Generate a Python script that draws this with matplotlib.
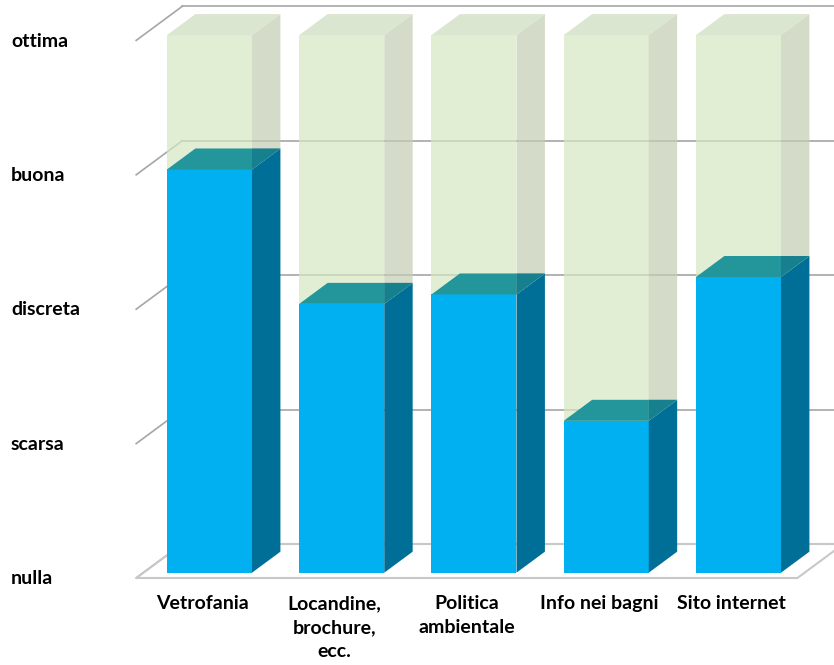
import matplotlib.pyplot as plt
from matplotlib.patches import Polygon

# valutazioni medie (0 = nulla ... 4 = ottima)
categories = ['Vetrofania', 'Locandine,\nbrochure,\necc.', 'Politica\nambientale',
              'Info nei bagni', 'Sito internet']
values = [3.0, 2.0, 2.07, 1.13, 2.2]
levels = ['nulla', 'scarsa', 'discreta', 'buona', 'ottima']
vmax = 4

# oblique 3d look: depth offset of the full floor, in data units
DX = 46 / 132.25
DY = 34 / 134.4
z_front, z_back = 0.156, 0.774
hw = 0.3215

blue_front, blue_side, blue_top = '#00B0F0', '#006F98', '#23969B'
blue_top_shade = '#17808F'
green_front, green_side, green_top = '#D6E8C3', '#C3CEB3', '#CDDCBC'
green_alpha = 0.7
grid_col = '#A6A6A6'


def pt(x, y, z):
    return (x + z * DX, y + z * DY)


def side_top(ax, xc, b, t, c_side, c_top, alpha=1.0, zo=3):
    side = [pt(xc + hw, b, z_front), pt(xc + hw, b, z_back),
            pt(xc + hw, t, z_back), pt(xc + hw, t, z_front)]
    top = [pt(xc - hw, t, z_front), pt(xc + hw, t, z_front),
           pt(xc + hw, t, z_back), pt(xc - hw, t, z_back)]
    ax.add_patch(Polygon(side, closed=True, facecolor=c_side, edgecolor='none', alpha=alpha, zorder=zo))
    ax.add_patch(Polygon(top, closed=True, facecolor=c_top, edgecolor='none', alpha=alpha, zorder=zo))


fig = plt.figure(figsize=(8.34, 6.65), dpi=100)
ax = fig.add_axes([0, 0, 1, 1])
ax.set_xlim(-202.3 / 132.25, (834 - 202.3) / 132.25)
ax.set_ylim((578 - 665) / 134.4, 578 / 134.4)
ax.axis('off')

x_left, x_right = -0.5, len(categories) - 0.5

# gridlines: back wall + left wall diagonals
for k in range(len(levels)):
    if k > 0:
        ax.plot([pt(x_left, k, 1)[0], pt(x_right, k, 1)[0]], [pt(x_left, k, 1)[1]] * 2,
                color=grid_col, lw=1.2, zorder=1)
    ax.plot([pt(x_left, k, 0)[0], pt(x_left, k, 1)[0]],
            [pt(x_left, k, 0)[1], pt(x_left, k, 1)[1]], color=grid_col, lw=1.2, zorder=1)

# floor outline
floor = [pt(x_left, 0, 0), pt(x_right, 0, 0), pt(x_right, 0, 1), pt(x_left, 0, 1)]
ax.add_patch(Polygon(floor, closed=True, facecolor='none', edgecolor='#C8C8C8', lw=1.5, zorder=1))

xs = list(range(len(categories)))
xf = [x + z_front * DX for x in xs]
rest = [vmax - v for v in values]

ax.bar(xf, values, width=2 * hw, bottom=z_front * DY, color=blue_front, zorder=2)
ax.bar(xf, rest, width=2 * hw, bottom=[v + z_front * DY for v in values],
       color=green_front, alpha=green_alpha, zorder=2)
for x, v in zip(xs, values):
    side_top(ax, x, 0, v, blue_side, blue_top, zo=3)
    side_top(ax, x, v, vmax, green_side, green_top, alpha=green_alpha, zo=4)
    # part of the blue top seen through the green side face
    xr = x + hw + z_front * DX
    tri = [pt(x + hw, v, z_front), pt(x + hw, v, z_back), (xr, pt(x, v, z_back)[1])]
    ax.add_patch(Polygon(tri, closed=True, facecolor=blue_top_shade, edgecolor='none', zorder=5))

font = dict(family=['Lato', 'DejaVu Sans'], fontweight='bold', fontsize=14, color='black')

for k, lab in enumerate(levels):
    ax.text(-1.447, k - 0.005, lab, ha='left', va='center', **font)

for x, lab in zip(xs, categories):
    ax.text(x, -0.13, lab, ha='center', va='top', linespacing=1.5, **font)

plt.savefig('out.png', dpi=100)
plt.close()
